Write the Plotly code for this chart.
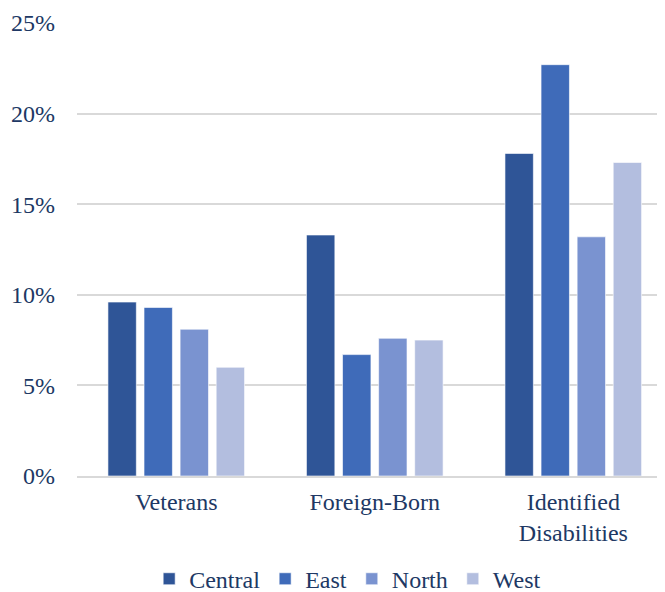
import plotly.graph_objects as go

categories = ["Veterans", "Foreign-Born", "Identified<br>Disabilities"]
series_names = ["Central", "East", "North", "West"]
central = [9.6, 13.3, 17.8]
east = [9.3, 6.7, 22.7]
north = [8.1, 7.6, 13.2]
west = [6.0, 7.5, 17.3]
y_ticks = [0, 5, 10, 15, 20, 25]
y_tick_labels = ["0%", "5%", "10%", "15%", "20%", "25%"]

colors = ["#2F5597", "#3F6BB9", "#7A93D0", "#B3BEDF"]
values = [central, east, north, west]
text_color = "#203864"
font_family = "Times New Roman, Liberation Serif, serif"
fs = 24

fig = go.Figure()
for name, vals, col in zip(series_names, values, colors):
    fig.add_trace(go.Bar(
        name=name, x=categories, y=vals,
        marker=dict(color=col, line=dict(color="rgba(255,255,255,0.6)", width=1)),
    ))

# page body adds an 8px offset; figure is sized to fill the rest of the window
fig.update_layout(
    width=657, height=584,
    margin=dict(l=69, r=0, t=15, b=116),
    paper_bgcolor="white", plot_bgcolor="white",
    barmode="group", bargap=0.273, bargroupgap=0.213,
    font=dict(family=font_family, size=fs, color=text_color),
    showlegend=True,
    legend=dict(orientation="h", x=0.517, xanchor="center", xref="container",
                y=0.022, yref="container", yanchor="middle",
                font=dict(family=font_family, size=fs, color=text_color),
                traceorder="normal", entrywidthmode="pixels"),
    xaxis=dict(range=[-0.5, 2.462], showgrid=False, showline=True,
               linecolor="#D9D9D9", linewidth=2, ticks="", ticklabelstandoff=3,
               tickfont=dict(family=font_family, size=fs, color=text_color),
               fixedrange=True),
    yaxis=dict(range=[0, 25], tickvals=y_ticks, ticktext=y_tick_labels,
               showgrid=True, gridcolor="#D9D9D9", gridwidth=2,
               zeroline=False, showline=False, ticks="", ticklabelstandoff=21,
               tickfont=dict(family=font_family, size=fs, color=text_color),
               fixedrange=True),
)

fig.write_html("out.html")
